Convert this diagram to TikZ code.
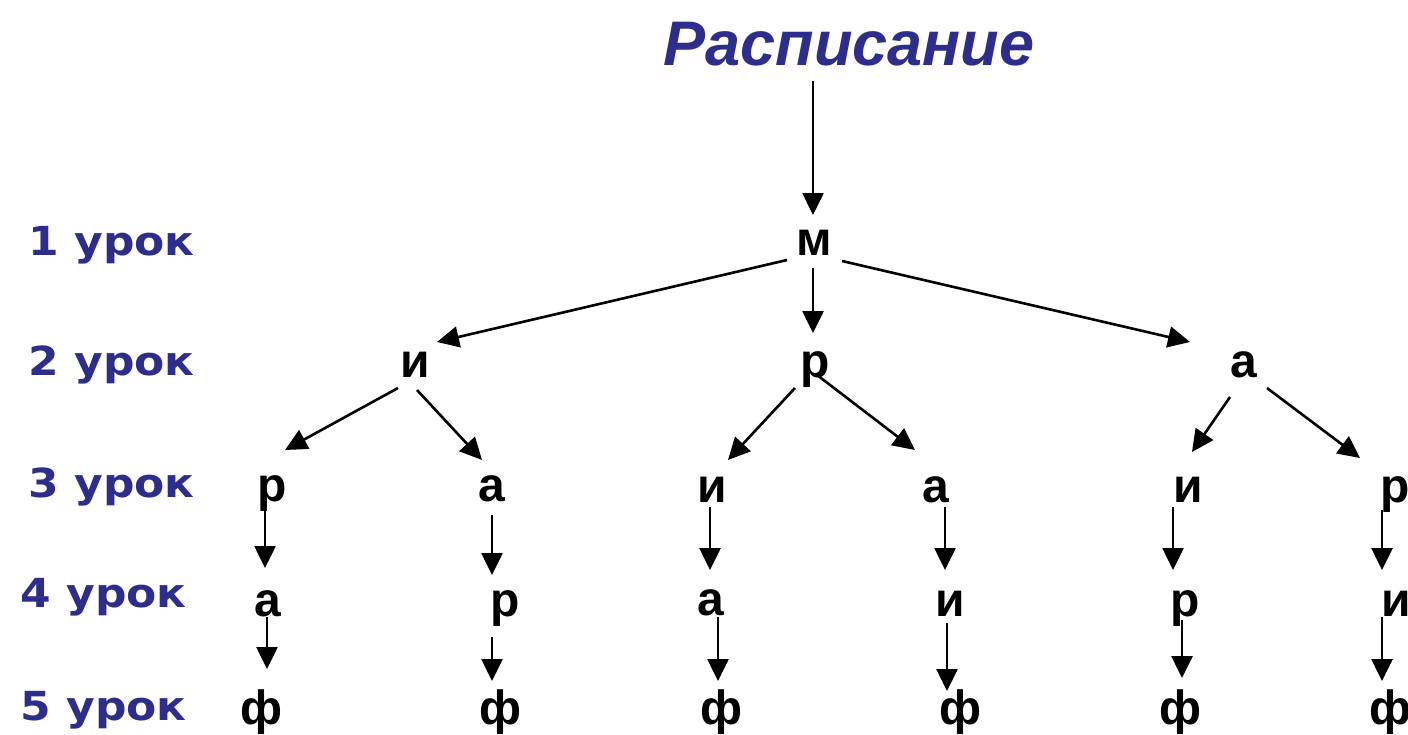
\documentclass[tikz,border=0pt]{standalone}
\usepackage{fontspec}
\usetikzlibrary{arrows.meta,calc}

\newfontfamily\treefont{Liberation Sans}
\newfontfamily\titlefont{Liberation Sans}
\newfontfamily\lessonfont[FakeStretch=1.1]{DejaVu Sans}
\definecolor{lessonblue}{RGB}{45,45,140}

\begin{document}
\begin{tikzpicture}[x=0.5pt,y=-0.5pt,
  lesson/.style={text=lessonblue, inner sep=0pt, anchor=base east,
    font=\lessonfont\bfseries\fontsize{20}{20}\selectfont},
  letter/.style={inner sep=0pt, text height=12.5pt, text depth=0pt, anchor=center,
    font=\treefont\bfseries\fontsize{24}{24}\selectfont},
  arr/.style={-{Triangle[length=11pt,width=10.5pt]}, line width=1.3pt}]

\useasboundingbox (0,0) rectangle (1408,734);
\fill[white] (0,0) rectangle (1408,734);
\clip (0,0) rectangle (1408,734);

% heading
\node[text=lessonblue, inner sep=0pt, anchor=base,
  font=\titlefont\bfseries\itshape\fontsize{31.5}{31.5}\selectfont] (title) at (849,65) {Расписание};

% lesson numbers
\node[lesson] (l1) at (195,255) {1 урок};
\node[lesson] (l2) at (195,375) {2 урок};
\node[lesson] (l3) at (195,497) {3 урок};
\node[lesson] (l4) at (187,607) {4 урок};
\node[lesson] (l5) at (187,720) {5 урок};

% level 1
\node[letter] (m) at (814,243) {м};
% level 2
\node[letter] (a2) at (415,365) {и};
\node[letter] (b2) at (815,365) {р};
\node[letter] (c2) at (1244,365) {а};
% level 3
\node[letter] (r3c1) at (272,489) {р};
\node[letter] (r3c2) at (492,489) {а};
\node[letter] (r3c3) at (712,490) {и};
\node[letter] (r3c4) at (936,490) {а};
\node[letter] (r3c5) at (1188,490) {и};
\node[letter] (r3c6) at (1395,490) {р};
% level 4
\node[letter] (r4c1) at (268,604) {а};
\node[letter] (r4c2) at (505,604) {р};
\node[letter] (r4c3) at (711,603) {а};
\node[letter] (r4c4) at (950,604) {и};
\node[letter] (r4c5) at (1185,604) {р};
\node[letter] (r4c6) at (1396,604) {и};
% level 5
\node[letter] (r5c1) at (261,712) {ф};
\node[letter] (r5c2) at (500,712) {ф};
\node[letter] (r5c3) at (721,712) {ф};
\node[letter] (r5c4) at (960,712) {ф};
\node[letter] (r5c5) at (1180,712) {ф};
\node[letter] (r5c6) at (1390,712) {ф};

% heading to first lesson
\draw[arr] ($(title.south -| m)+(-1,15)$) -- ($(m)+(-1,-28)$);

% first lesson to second
\draw[arr] ($(m)+(-27,17)$) -- ($(a2)+(22,-23)$);
\draw[arr] ($(m)+(-1,25)$) -- ($(b2)+(-2,-32)$);
\draw[arr] ($(m)+(28,18)$) -- ($(c2)+(-54,-23)$);

% second lesson to third
\draw[arr] ($(a2)+(-17,23)$) -- ($(r3c1)+(13,-39)$);
\draw[arr] ($(a2)+(2,25)$) -- ($(r3c2)+(-10,-29)$);
\draw[arr] ($(b2)+(-20,23)$) -- ($(r3c3)+(16,-30)$);
\draw[arr] ($(b2)+(2,10)$) -- ($(r3c4)+(-21,-40)$);
\draw[arr] ($(c2)+(-14,32)$) -- ($(r3c5)+(4,-38)$);
\draw[arr] ($(c2)+(23,23)$) -- ($(r3c6)+(-35,-32)$);

% third lesson to fourth
\draw[arr] ($(r3c1)+(-7,14)$) -- ($(r4c1)+(-3,-36)$);
\draw[arr] ($(r3c2)+(0,26)$) -- ($(r4c2)+(-13,-29)$);
\draw[arr] ($(r3c3)+(-2,17)$) -- ($(r4c3)+(-1,-33)$);
\draw[arr] ($(r3c4)+(9,17)$) -- ($(r4c4)+(-5,-34)$);
\draw[arr] ($(r3c5)+(-15,17)$) -- ($(r4c5)+(-12,-34)$);
\draw[arr] ($(r3c6)+(-13,20)$) -- ($(r4c6)+(-14,-34)$);

% fourth lesson to fifth
\draw[arr] ($(r4c1)+(-1,13)$) -- ($(r5c1)+(6,-43)$);
\draw[arr] ($(r4c2)+(-13,33)$) -- ($(r5c2)+(-8,-31)$);
\draw[arr] ($(r4c3)+(7,14)$) -- ($(r5c3)+(-3,-31)$);
\draw[arr] ($(r4c4)+(-3,19)$) -- ($(r5c4)+(-13,-21)$);
\draw[arr] ($(r4c5)+(-3,16)$) -- ($(r5c5)+(2,-34)$);
\draw[arr] ($(r4c6)+(-14,13)$) -- ($(r5c6)+(-8,-31)$);
\end{tikzpicture}
\end{document}
